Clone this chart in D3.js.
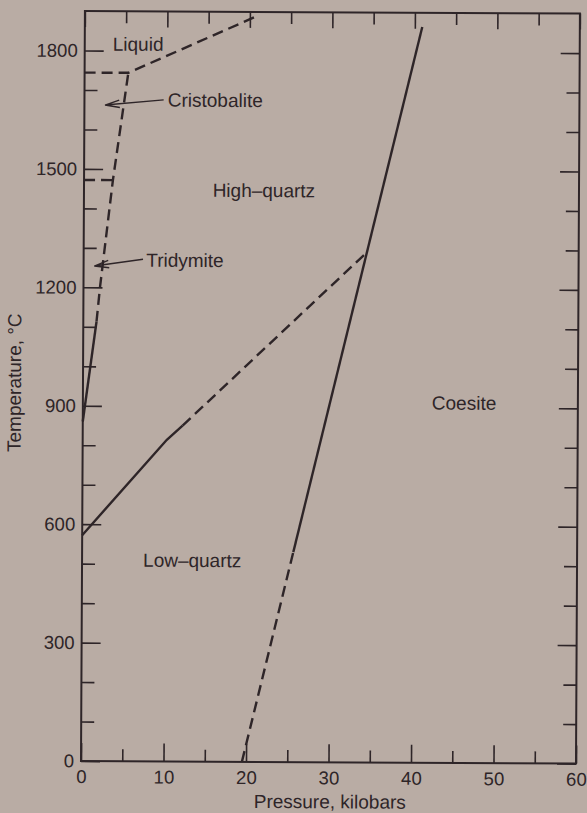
<!DOCTYPE html>
<html>
<head>
<meta charset="utf-8">
<script src="https://cdnjs.cloudflare.com/ajax/libs/d3/7.8.5/d3.min.js"></script>
<style>
  body { margin: 0; background: #b9aca4; }
  svg { display: block; }
  text { font-family: "Liberation Sans", Arial, sans-serif; fill: #2e2528; }
</style>
</head>
<body>
<svg width="587" height="813"></svg>
<script>
// tick labels
const pressureLabels = [0, 10, 20, 30, 40, 50, 60];
const pressureMinor = [5, 15, 25, 35, 45, 55];
const tempLabels = [0, 300, 600, 900, 1200, 1500, 1800];
const tempMinor = [100, 200, 400, 500, 700, 800, 1000, 1100, 1300, 1400, 1600, 1700];

// phase boundaries as [pressure kbar, temperature C]
const liquidus = [[0, 1744], [5.3, 1744], [20.6, 1887]];
const cristobaliteTridymite = [[0, 1472], [3.5, 1472]];
const tridymiteQuartzSolid = [[0, 860], [1.6, 1113]];
const tridymiteQuartzDashed = [[1.6, 1113], [2.0, 1200], [3.5, 1472], [5.3, 1744]];
const lowHighSolid = [[0, 572], [10.2, 815], [12.1, 851]];
const lowHighDashed = [[12.1, 851], [34.2, 1290]];
const coesiteSolid = [[25.6, 532], [40.9, 1864]];
const coesiteDashed = [[19.5, 0], [25.6, 532]];

// field names
const fieldLabels = ['Liquid', 'High–quartz', 'Low–quartz', 'Coesite'];
const fieldAt = [[3.4, 1800], [15.6, 1431], [7.4, 493], [42.3, 895]];

// names pointed at with an arrow
const arrowLabels = ['Cristobalite', 'Tridymite'];
const arrowTextAt = [[10.1, 1659], [7.6, 1253]];
const arrowFrom = [[9.6, 1676], [7.2, 1272]];
const arrowTip = [[2.5, 1662], [1.3, 1254]];

const ink = '#2e2528';

const svg = d3.select('svg');
// the scanned figure sits a little tilted
const chart = svg.append('g').attr('transform', 'rotate(0.3, 81, 761)');

const x = d3.scaleLinear().domain([0, 60]).range([81, 576]);
const y = d3.scaleLinear().domain([0, 1900]).range([761, 11]);

const styleAxis = (g, size) => {
  g.select('.domain').remove();
  g.selectAll('line').attr('stroke', ink).attr('stroke-width', 1.6);
  g.selectAll('text').attr('font-size', size).attr('fill', ink)
    .attr('font-family', '"Liberation Sans", Arial, sans-serif');
};

// bottom
chart.append('g').attr('transform', `translate(0, ${y(0)})`)
  .call(d3.axisBottom(x).tickValues(pressureLabels).tickSize(-18).tickPadding(9).tickFormat(d3.format('d')))
  .call(g => styleAxis(g, 18.5));
chart.append('g').attr('transform', `translate(0, ${y(0)})`)
  .call(d3.axisBottom(x).tickValues(pressureMinor).tickSize(-12).tickFormat(''))
  .call(g => styleAxis(g, 0));

// top
chart.append('g').attr('transform', `translate(0, ${y(1900)})`)
  .call(d3.axisTop(x).tickValues(pressureLabels).tickSize(-16).tickFormat(''))
  .call(g => styleAxis(g, 0));
chart.append('g').attr('transform', `translate(0, ${y(1900)})`)
  .call(d3.axisTop(x).tickValues(pressureMinor).tickSize(-12).tickFormat(''))
  .call(g => styleAxis(g, 0));

// left
chart.append('g').attr('transform', `translate(${x(0)}, 0)`)
  .call(d3.axisLeft(y).tickValues(tempLabels).tickSize(-19).tickPadding(7).tickFormat(d3.format('d')))
  .call(g => styleAxis(g, 18.5));
chart.append('g').attr('transform', `translate(${x(0)}, 0)`)
  .call(d3.axisLeft(y).tickValues(tempMinor).tickSize(-13).tickFormat(''))
  .call(g => styleAxis(g, 0));

// right
chart.append('g').attr('transform', `translate(${x(60)}, 0)`)
  .call(d3.axisRight(y).tickValues(tempLabels).tickSize(-19).tickFormat(''))
  .call(g => styleAxis(g, 0));
chart.append('g').attr('transform', `translate(${x(60)}, 0)`)
  .call(d3.axisRight(y).tickValues(tempMinor).tickSize(-13).tickFormat(''))
  .call(g => styleAxis(g, 0));

// frame
chart.append('rect')
  .attr('x', x(0)).attr('y', y(1900))
  .attr('width', x(60) - x(0)).attr('height', y(0) - y(1900))
  .attr('fill', 'none').attr('stroke', ink).attr('stroke-width', 2);

// boundaries
const line = d3.line().x(d => x(d[0])).y(d => y(d[1]));
const solid = [tridymiteQuartzSolid, lowHighSolid, coesiteSolid];
const dashed = [liquidus, cristobaliteTridymite, tridymiteQuartzDashed, lowHighDashed, coesiteDashed];

chart.selectAll('path.solid').data(solid).enter().append('path')
  .attr('class', 'solid')
  .attr('d', line)
  .attr('fill', 'none').attr('stroke', ink).attr('stroke-width', 2.4);

chart.selectAll('path.dashed').data(dashed).enter().append('path')
  .attr('class', 'dashed')
  .attr('d', line)
  .attr('fill', 'none').attr('stroke', ink).attr('stroke-width', 2.4)
  .attr('stroke-dasharray', '11,6');

// field names
chart.selectAll('text.field').data(fieldLabels).enter().append('text')
  .attr('class', 'field')
  .attr('x', (d, i) => x(fieldAt[i][0]))
  .attr('y', (d, i) => y(fieldAt[i][1]))
  .attr('font-size', 19)
  .text(d => d);

// arrows with open heads
chart.selectAll('text.arrow').data(arrowLabels).enter().append('text')
  .attr('class', 'arrow')
  .attr('x', (d, i) => x(arrowTextAt[i][0]))
  .attr('y', (d, i) => y(arrowTextAt[i][1]))
  .attr('font-size', 19)
  .text(d => d);

arrowLabels.forEach((d, i) => {
  const x0 = x(arrowFrom[i][0]), y0 = y(arrowFrom[i][1]);
  const x1 = x(arrowTip[i][0]), y1 = y(arrowTip[i][1]);
  const a = Math.atan2(y0 - y1, x0 - x1);
  const len = 15, spread = 0.25;
  const arm = s => [x1 + len * Math.cos(a + s), y1 + len * Math.sin(a + s)];
  const [ax, ay] = arm(spread);
  const [bx, by] = arm(-spread);
  chart.append('path')
    .attr('d', `M${x0},${y0}L${x1},${y1}M${ax},${ay}L${x1},${y1}L${bx},${by}`)
    .attr('fill', 'none').attr('stroke', ink).attr('stroke-width', 1.4);
});

// axis titles
chart.append('text')
  .attr('x', 330).attr('y', 807)
  .attr('text-anchor', 'middle').attr('font-size', 19)
  .text('Pressure, kilobars');

chart.append('text')
  .attr('transform', 'translate(19, 383) rotate(-90)')
  .attr('text-anchor', 'middle').attr('font-size', 19)
  .text('Temperature, °C');
</script>
</body>
</html>
